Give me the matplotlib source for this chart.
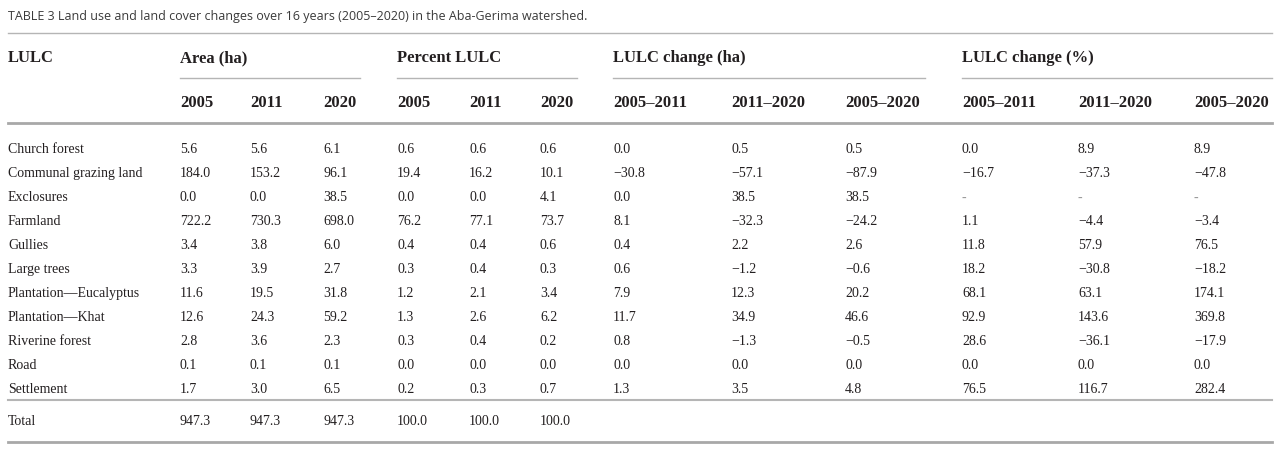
import matplotlib.pyplot as plt

# table values
lulc = ["Church forest", "Communal grazing land", "Exclosures", "Farmland", "Gullies",
        "Large trees", "Plantation\u2014Eucalyptus", "Plantation\u2014Khat",
        "Riverine forest", "Road", "Settlement"]
area_2005 = [5.6, 184.0, 0.0, 722.2, 3.4, 3.3, 11.6, 12.6, 2.8, 0.1, 1.7]
area_2011 = [5.6, 153.2, 0.0, 730.3, 3.8, 3.9, 19.5, 24.3, 3.6, 0.1, 3.0]
area_2020 = [6.1, 96.1, 38.5, 698.0, 6.0, 2.7, 31.8, 59.2, 2.3, 0.1, 6.5]
pct_2005 = [0.6, 19.4, 0.0, 76.2, 0.4, 0.3, 1.2, 1.3, 0.3, 0.0, 0.2]
pct_2011 = [0.6, 16.2, 0.0, 77.1, 0.4, 0.4, 2.1, 2.6, 0.4, 0.0, 0.3]
pct_2020 = [0.6, 10.1, 4.1, 73.7, 0.6, 0.3, 3.4, 6.2, 0.2, 0.0, 0.7]
chg_ha_05_11 = [0.0, -30.8, 0.0, 8.1, 0.4, 0.6, 7.9, 11.7, 0.8, 0.0, 1.3]
chg_ha_11_20 = [0.5, -57.1, 38.5, -32.3, 2.2, -1.2, 12.3, 34.9, -1.3, 0.0, 3.5]
chg_ha_05_20 = [0.5, -87.9, 38.5, -24.2, 2.6, -0.6, 20.2, 46.6, -0.5, 0.0, 4.8]
chg_pct_05_11 = [0.0, -16.7, None, 1.1, 11.8, 18.2, 68.1, 92.9, 28.6, 0.0, 76.5]
chg_pct_11_20 = [8.9, -37.3, None, -4.4, 57.9, -30.8, 63.1, 143.6, -36.1, 0.0, 116.7]
chg_pct_05_20 = [8.9, -47.8, None, -3.4, 76.5, -18.2, 174.1, 369.8, -17.9, 0.0, 282.4]
total_area = [947.3, 947.3, 947.3]
total_pct = [100.0, 100.0, 100.0]

groups = ["Area (ha)", "Percent LULC", "LULC change (ha)", "LULC change (%)"]
sub_headers = ["2005", "2011", "2020", "2005", "2011", "2020",
               "2005\u20132011", "2011\u20132020", "2005\u20132020",
               "2005\u20132011", "2011\u20132020", "2005\u20132020"]
title = ("TABLE 3 Land use and land cover changes over 16 years (2005\u20132020) "
         "in the Aba-Gerima watershed.")

columns = [area_2005, area_2011, area_2020, pct_2005, pct_2011, pct_2020,
           chg_ha_05_11, chg_ha_11_20, chg_ha_05_20,
           chg_pct_05_11, chg_pct_11_20, chg_pct_05_20]

# layout (pixels)
col_x = [180, 250, 323, 397, 469, 540, 613, 731, 845, 962, 1078, 1194]
group_x = [180, 397, 613, 962]
group_end = [360, 577, 925, 1272]
left, right = 8, 1272
row_y0, row_step = 149, 24

serif = "Liberation Serif"
txt = "#231f20"
rule = "#b5b5b5"
dy_body = 4.5   # centre -> baseline, body text
dy_head = 5.5   # centre -> baseline, header text


def fmt(v):
    if v is None:
        return "-"
    s = f"{abs(v):.1f}"
    return ("\u2212" + s) if v < 0 else s


def body(x, y, s, color=txt):
    ax.text(x, y + dy_body, s, fontsize=10, family=serif, color=color, va="baseline")


def head(x, y, s):
    ax.text(x, y + dy_head, s, fontsize=12, family=serif, weight="bold",
            color=txt, va="baseline")


fig = plt.figure(figsize=(12.8, 4.56), dpi=100)
ax = fig.add_axes([0, 0, 1, 1])
ax.set_xlim(0, 1280)
ax.set_ylim(456, 0)
ax.axis("off")

ax.text(left, 20, title, fontsize=9, family="Open Sans", color="#3a3a3a", va="baseline")
ax.plot([left, right], [34, 34], color=rule, lw=1)

head(left, 57, "LULC")
for g, gx, ge in zip(groups, group_x, group_end):
    head(gx, 57, g)
    ax.plot([gx, ge], [79, 79], color=rule, lw=1)
for h, cx in zip(sub_headers, col_x):
    head(cx, 102, h)
ax.plot([left, right], [124, 124], color="#a8a8a8", lw=2)

for i, name in enumerate(lulc):
    y = row_y0 + i * row_step
    body(left, y, name)
    for col, cx in zip(columns, col_x):
        v = col[i]
        body(cx, y, fmt(v), "#999999" if v is None else txt)

ax.plot([left, right], [401, 401], color=rule, lw=1.5)
body(left, 421, "Total")
for v, cx in zip(total_area + total_pct, col_x[:6]):
    body(cx, 421, fmt(v))
ax.plot([left, right], [443, 443], color="#a8a8a8", lw=2)

fig.savefig("out.png", dpi=100)
